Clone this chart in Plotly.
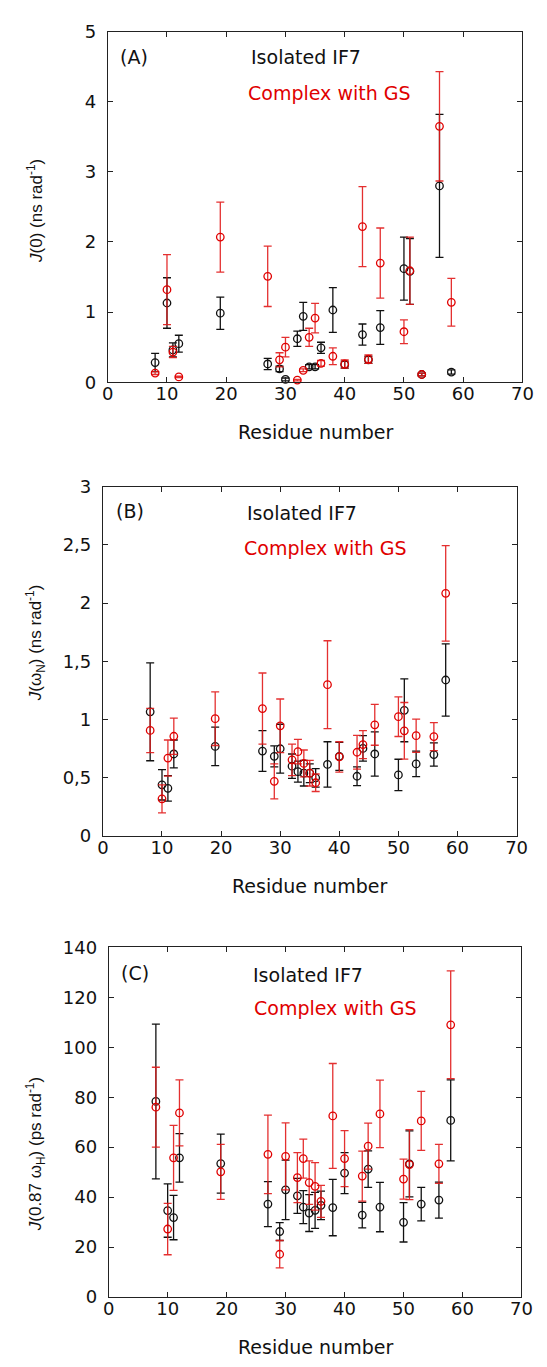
import plotly.graph_objects as go

residues = [8, 10, 11, 12, 19, 27, 29, 30, 32, 33, 34, 35, 36, 38, 40, 43, 44, 46, 50, 51, 53, 56, 58]

# Panel A: J(0) (ns/rad)
a_iso = [0.28, 1.13, 0.46, 0.55, 0.985, 0.26, 0.19, 0.04, 0.62, 0.94, 0.22, 0.22, 0.49, 1.03, 0.25, 0.68, 0.32, 0.78, 1.62, 1.58, 0.11, 2.80, 0.145]
a_iso_err = [0.13, 0.36, 0.10, 0.12, 0.23, 0.08, 0.04, 0.02, 0.11, 0.20, 0.03, 0.03, 0.08, 0.32, 0.05, 0.15, 0.05, 0.24, 0.45, 0.47, 0.02, 1.02, 0.03]
a_gs = [0.13, 1.32, 0.43, 0.075, 2.07, 1.51, 0.32, 0.50, 0.03, 0.17, 0.64, 0.915, 0.27, 0.37, 0.26, 2.22, 0.33, 1.70, 0.72, 1.59, 0.11, 3.65, 1.14]
a_gs_err = [0.02, 0.50, 0.08, 0.01, 0.50, 0.43, 0.10, 0.14, 0.01, 0.02, 0.13, 0.21, 0.04, 0.12, 0.06, 0.57, 0.06, 0.50, 0.17, 0.48, 0.02, 0.78, 0.34]

# Panel B: J(wN) (ns/rad)
b_iso = [1.067, 0.44, 0.41, 0.705, 0.77, 0.73, 0.685, 0.75, 0.60, 0.553, 0.54, 0.54, 0.50, 0.615, 0.685, 0.514, 0.753, 0.705, 0.525, 1.08, 0.62, 0.70, 1.34]
b_iso_err = [0.42, 0.13, 0.11, 0.12, 0.165, 0.175, 0.09, 0.21, 0.105, 0.09, 0.11, 0.08, 0.08, 0.195, 0.12, 0.08, 0.11, 0.19, 0.135, 0.27, 0.11, 0.10, 0.31]
b_gs = [0.907, 0.32, 0.67, 0.857, 1.008, 1.095, 0.47, 0.947, 0.655, 0.725, 0.624, 0.54, 0.458, 1.30, 0.68, 0.72, 0.786, 0.955, 1.025, 0.904, 0.862, 0.854, 2.084]
b_gs_err = [0.19, 0.12, 0.155, 0.155, 0.23, 0.305, 0.15, 0.23, 0.135, 0.105, 0.115, 0.11, 0.075, 0.377, 0.13, 0.145, 0.12, 0.175, 0.17, 0.243, 0.143, 0.12, 0.41]

# Panel C: J(0.87 wH) (ps/rad)
c_iso = [78.3, 34.6, 31.8, 55.7, 53.4, 37.2, 26.2, 42.9, 40.5, 36.0, 33.6, 34.7, 36.7, 35.8, 49.6, 32.8, 51.2, 36.0, 29.9, 53.3, 37.2, 38.8, 70.7]
c_iso_err = [31.0, 10.7, 8.9, 9.7, 11.8, 9.0, 3.6, 11.9, 7.0, 6.6, 7.4, 7.2, 5.7, 11.3, 8.2, 5.1, 7.3, 9.9, 7.9, 13.2, 6.7, 7.2, 16.2]
c_gs = [76.0, 27.2, 55.7, 73.7, 50.1, 57.1, 17.1, 56.3, 47.8, 55.4, 45.8, 44.3, 38.3, 72.5, 55.4, 48.4, 60.4, 73.3, 47.2, 53.0, 70.5, 53.3, 109.0]
c_gs_err = [16.0, 10.3, 13.0, 13.2, 11.0, 15.7, 5.5, 13.4, 10.0, 7.8, 8.7, 9.5, 6.4, 21.0, 11.2, 10.0, 9.2, 13.5, 8.0, 14.0, 11.8, 7.8, 21.6]

panel_labels = ["(A)", "(B)", "(C)"]
series_names = ["Isolated IF7", "Complex with GS"]
y_titles = [
    "<i>J</i>(0) (ns rad<sup>-1</sup>)",
    "<i>J</i>(ω<sub>N</sub>) (ns rad<sup>-1</sup>)",
    "<i>J</i>(0.87 ω<sub>H</sub>) (ps rad<sup>-1</sup>)",
]
x_title = "Residue number"
y_ranges = [[0, 5], [0, 3], [0, 140]]
y_dticks = [1, 0.5, 20]

W, H = 547, 1367
# plot-area pixel boxes (left, right, top, bottom)
boxes = [(105, 533, 21, 377), (100, 527, 483, 838), (106, 532, 951, 1306)]

BLACK = "#111111"
RED = "#e00000"
RED_ERR = "rgba(225,25,25,0.9)"
FONT = "DejaVu Sans, Liberation Sans, Arial, sans-serif"
FONT_Y = "Liberation Sans, Arial, sans-serif"

fig = go.Figure()
data = [
    (a_iso, a_iso_err, a_gs, a_gs_err),
    (b_iso, b_iso_err, b_gs, b_gs_err),
    (c_iso, c_iso_err, c_gs, c_gs_err),
]

annotations = []
for i, (iso, iso_e, gs, gs_e) in enumerate(data):
    xa = "x" if i == 0 else f"x{i+1}"
    ya = "y" if i == 0 else f"y{i+1}"
    for vals, errs, col, ecol in [(iso, iso_e, BLACK, BLACK), (gs, gs_e, RED, RED_ERR)]:
        fig.add_trace(go.Scatter(
            x=residues, y=vals, mode="markers", xaxis=xa, yaxis=ya,
            marker=dict(symbol="circle-open", size=7.5, color=col, line=dict(width=1.3, color=col)),
            error_y=dict(type="data", array=errs, visible=True, color=ecol, thickness=1.3, width=4),
            cliponaxis=False, showlegend=False,
        ))
    l, r, t, b = boxes[i]
    xd = [l / W, r / W]
    yd = [1 - b / H, 1 - t / H]
    axis_common = dict(showline=True, linecolor="#222", linewidth=1, mirror="allticks",
                       ticks="inside", ticklen=5, tickwidth=1, tickcolor="#222",
                       showgrid=False, zeroline=False,
                       tickfont=dict(family=FONT, size=18, color="#111"))
    fig.layout[("xaxis" if i == 0 else f"xaxis{i+1}")] = dict(
        domain=xd, range=[0, 70], dtick=10, tick0=0, anchor=ya,
        ticklabelstandoff=-5, **axis_common)
    fig.layout[("yaxis" if i == 0 else f"yaxis{i+1}")] = dict(
        domain=yd, range=y_ranges[i], dtick=y_dticks[i], tick0=0, anchor=xa,
        ticklabelstandoff=7, **axis_common)

    # panel letter and series labels
    cx = (l + r) / 2
    label_pos = [
        [(132, 47), (310, 47), (334, 83)],
        [(128, 508), (306, 510), (330, 545)],
        [(133, 977), (312, 979), (340, 1013)],
    ][i]
    texts = [(panel_labels[i], "#111"), (series_names[0], "#111"), (series_names[1], RED)]
    for (px, py), (txt, col) in zip(label_pos, texts):
        annotations.append(dict(x=px / W, y=1 - py / H, xref="paper", yref="paper",
                                text=txt, showarrow=False, xanchor="center", yanchor="middle",
                                font=dict(family=FONT, size=19, color=col)))
    # x title
    annotations.append(dict(x=cx / W, y=1 - (b + 51) / H, xref="paper", yref="paper",
                            text=x_title, showarrow=False, xanchor="center", yanchor="middle",
                            font=dict(family=FONT, size=19, color="#111")))
    # y title
    ycen = [203, 642, 1161][i]
    annotations.append(dict(x=30 / W, y=1 - ycen / H, xref="paper", yref="paper",
                            text=y_titles[i], showarrow=False, textangle=-90,
                            xanchor="center", yanchor="middle",
                            font=dict(family=FONT_Y, size=17, color="#111")))

fig.update_layout(
    width=W, height=H, margin=dict(l=0, r=0, t=0, b=0),
    paper_bgcolor="white", plot_bgcolor="white",
    separators=",.", annotations=annotations, showlegend=False,
)

fig.write_html("out.html")
